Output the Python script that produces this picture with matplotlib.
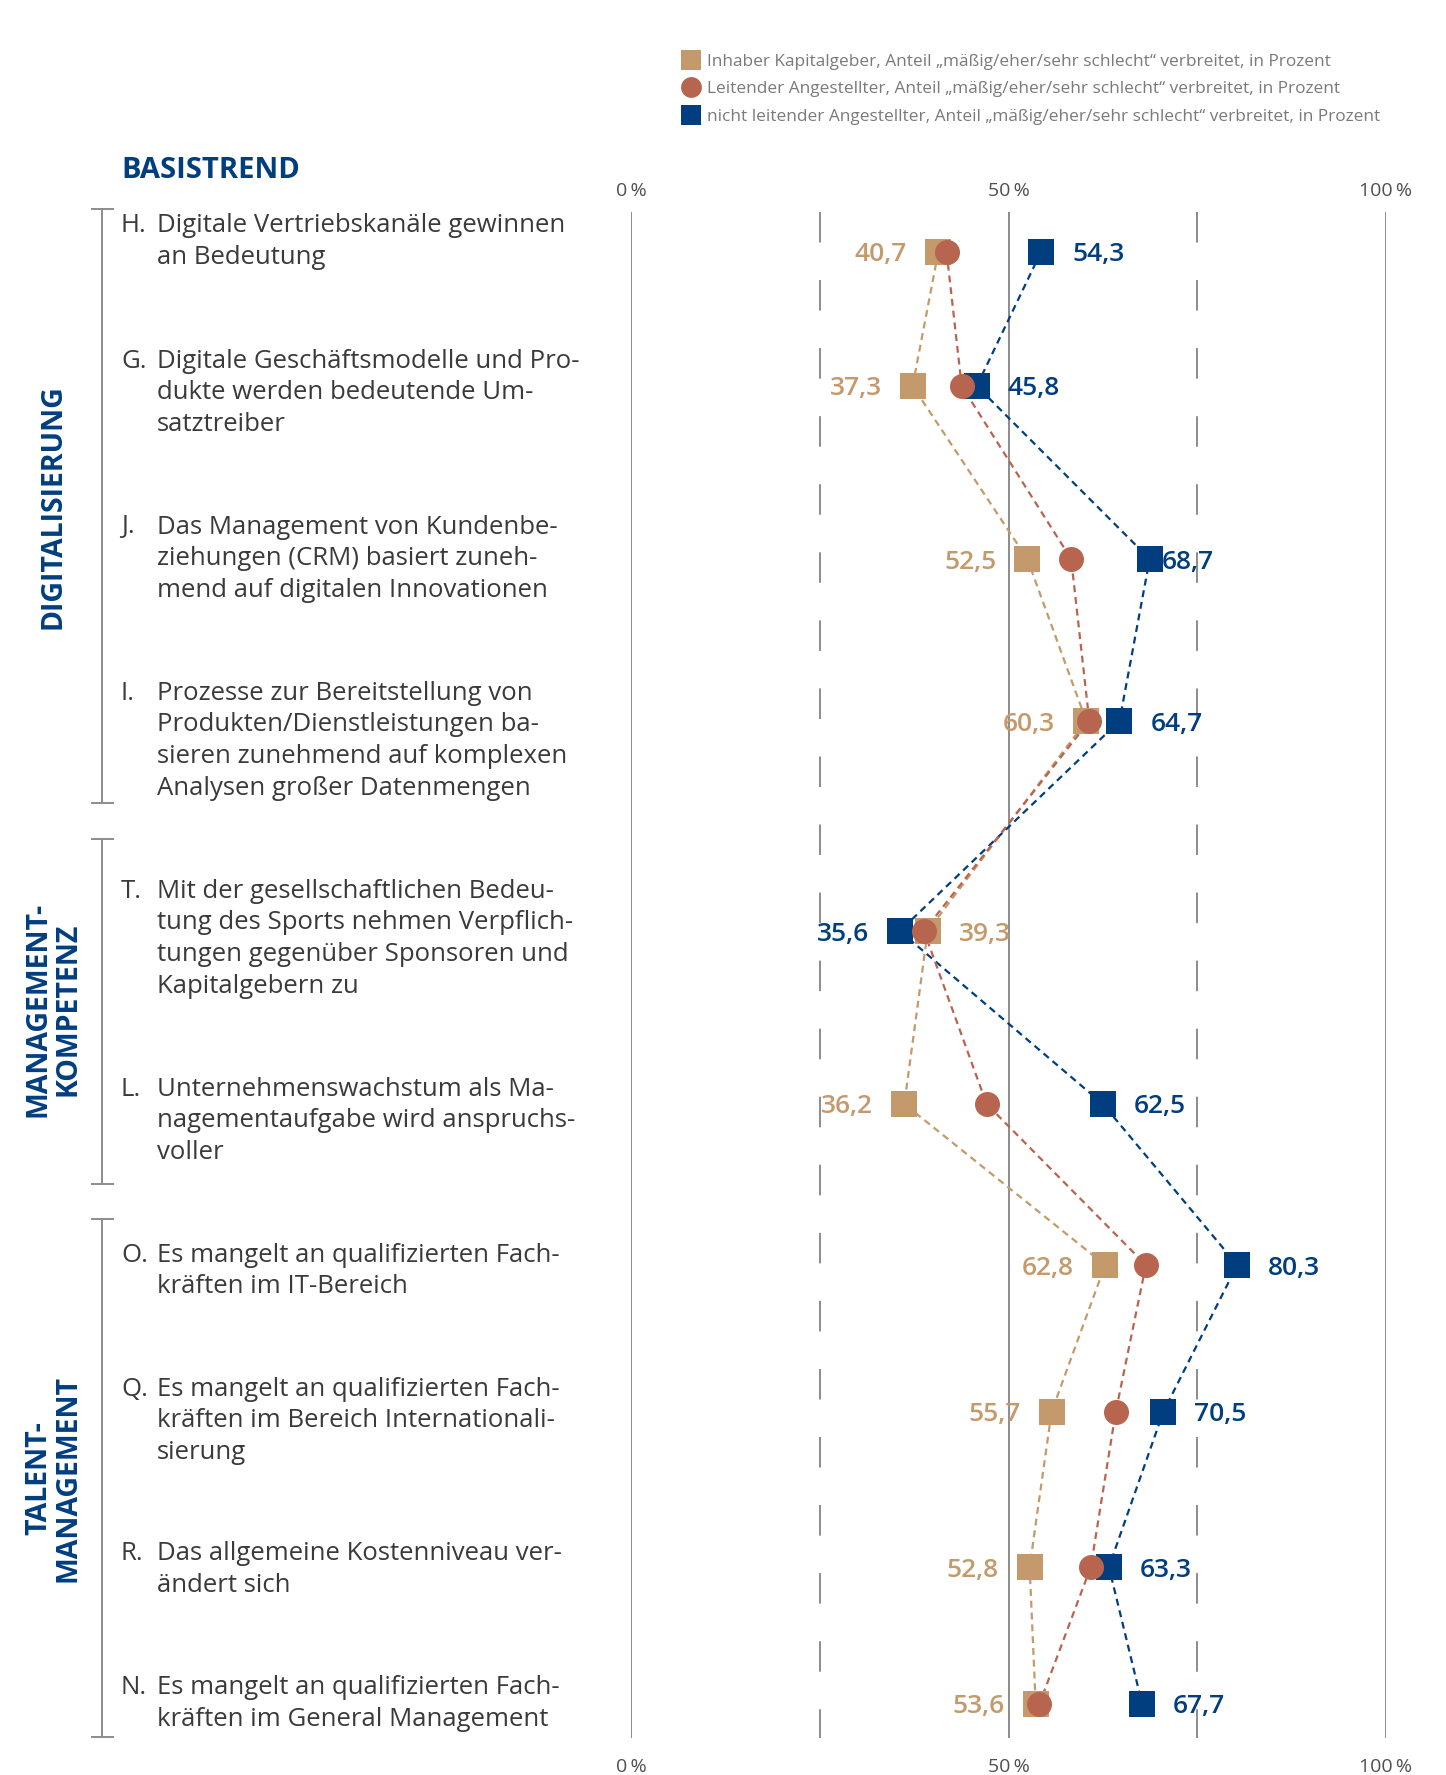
import matplotlib
matplotlib.use('Agg')
import matplotlib.pyplot as plt
from matplotlib.lines import Line2D
from matplotlib.transforms import offset_copy

plt.rcParams['font.family'] = ['Open Sans', 'DejaVu Sans']
plt.rcParams['lines.scale_dashes'] = False

# ---------------- data ----------------
item_letters = ['H.', 'G.', 'J.', 'I.', 'T.', 'L.', 'O.', 'Q.', 'R.', 'N.']
item_texts = [
    "Digitale Vertriebskanäle gewinnen\nan Bedeutung",
    "Digitale Geschäftsmodelle und Pro-\ndukte werden bedeutende Um-\nsatztreiber",
    "Das Management von Kundenbe-\nziehungen (CRM) basiert zuneh-\nmend auf digitalen Innovationen",
    "Prozesse zur Bereitstellung von\nProdukten/Dienstleistungen ba-\nsieren zunehmend auf komplexen\nAnalysen großer Datenmengen",
    "Mit der gesellschaftlichen Bedeu-\ntung des Sports nehmen Verpflich-\ntungen gegenüber Sponsoren und\nKapitalgebern zu",
    "Unternehmenswachstum als Ma-\nnagementaufgabe wird anspruchs-\nvoller",
    "Es mangelt an qualifizierten Fach-\nkräften im IT-Bereich",
    "Es mangelt an qualifizierten Fach-\nkräften im Bereich Internationali-\nsierung",
    "Das allgemeine Kostenniveau ver-\nändert sich",
    "Es mangelt an qualifizierten Fach-\nkräften im General Management",
]
inhaber = [40.7, 37.3, 52.5, 60.3, 39.3, 36.2, 62.8, 55.7, 52.8, 53.6]
leitend = [41.8, 43.8, 58.3, 60.7, 38.8, 47.1, 68.2, 64.2, 60.9, 54.1]
nicht_leitend = [54.3, 45.8, 68.7, 64.7, 35.6, 62.5, 80.3, 70.5, 63.3, 67.7]
series_labels = [
    "Inhaber Kapitalgeber, Anteil \u201emäßig/eher/sehr schlecht\u201c verbreitet, in Prozent",
    "Leitender Angestellter, Anteil \u201emäßig/eher/sehr schlecht\u201c verbreitet, in Prozent",
    "nicht leitender Angestellter, Anteil \u201emäßig/eher/sehr schlecht\u201c verbreitet, in Prozent",
]
group_labels = ['DIGITALISIERUNG', 'MANAGEMENT-\nKOMPETENZ', 'TALENT-\nMANAGEMENT']
x_ticks = [0, 50, 100]
x_tick_labels = ['0\u2009%', '50\u2009%', '100\u2009%']
header = 'BASISTREND'

# ---------------- layout (pixels) ----------------
W, H = 1446, 1775
row_y = [252, 386, 559, 721, 931, 1104, 1265, 1412, 1567, 1704]
text_top_y = [226, 361, 527, 693, 891, 1089, 1255, 1389, 1554, 1688]
line_h = 31.7
group_spans = [(209, 803), (839, 1184), (1219, 1737)]
group_label_y = [507, 1009, 1478]
tan_side = ['L', 'L', 'L', 'L', 'R', 'L', 'L', 'L', 'L', 'L']
blue_side = ['R', 'R', 'R', 'R', 'L', 'R', 'R', 'R', 'R', 'R']
blue_off = [31, 31, 12, 31, 31, 31, 31, 31, 31, 31]

TAN = '#C49A6C'
RED = '#B86550'
BLUE = '#003E80'
GRID = '#8c8c8c'
TXT = '#3a3a3a'

fig = plt.figure(figsize=(W / 100, H / 100), dpi=100)
x0, x1 = 631, 1386
ax = fig.add_axes([x0 / W, 0, (x1 - x0) / W, 1])
ax.set_xlim(0, 100)
ax.set_ylim(H, 0)
ax.axis('off')

def fx(px):
    return px / W

def fy(py):
    return 1 - py / H

# grid lines
grid_top, grid_bot = 212, 1738
ax.vlines(x_ticks, grid_top, grid_bot, colors=GRID, linewidth=1.4, zorder=1)
ax.vlines([25, 75], grid_top, grid_bot, colors=GRID, linewidth=1.4,
          linestyles=(0, (22, 27)), zorder=1)
for xt, lab in zip(x_ticks, x_tick_labels):
    ax.text(xt, 191, lab, ha='center', va='center', fontsize=14, color='#505050')
    ax.text(xt, 1767, lab, ha='center', va='center', fontsize=14, color='#505050')

# series lines + markers
series = [
    (inhaber, TAN, 's', 18.5, 2),
    (nicht_leitend, BLUE, 's', 18.5, 3),
    (leitend, RED, 'o', 18, 4),
]
for vals, col, mk, ms, z in series:
    ax.plot(vals, row_y, color=col, linewidth=1.6, linestyle=(0, (5, 3.5)), zorder=1.5)
for vals, col, mk, ms, z in series:
    ax.plot(vals, row_y, linestyle='none', marker=mk, markersize=ms,
            color=col, markeredgewidth=0, zorder=z)

# value labels
VAL_FS = 19
VAL_DY = -3  # dots (downward)
for i, y in enumerate(row_y):
    if tan_side[i] == 'L':
        tr = offset_copy(ax.transData, fig, x=-31, y=VAL_DY, units='dots')
        ha = 'right'
    else:
        tr = offset_copy(ax.transData, fig, x=31, y=VAL_DY, units='dots')
        ha = 'left'
    ax.text(inhaber[i], y, f"{inhaber[i]:.1f}".replace('.', ','), transform=tr,
            ha=ha, va='center', fontsize=VAL_FS, fontweight='semibold', color=TAN, zorder=5)
    if blue_side[i] == 'R':
        tr = offset_copy(ax.transData, fig, x=blue_off[i], y=VAL_DY, units='dots')
        ha = 'left'
    else:
        tr = offset_copy(ax.transData, fig, x=-blue_off[i], y=VAL_DY, units='dots')
        ha = 'right'
    ax.text(nicht_leitend[i], y, f"{nicht_leitend[i]:.1f}".replace('.', ','), transform=tr,
            ha=ha, va='center', fontsize=VAL_FS, fontweight='semibold', color=BLUE, zorder=5)

# left item labels
ITEM_FS = 18.5
for i, (letter, txt) in enumerate(zip(item_letters, item_texts)):
    y0 = text_top_y[i]
    fig.text(fx(121), fy(y0), letter, ha='left', va='center', fontsize=ITEM_FS, color=TXT)
    for k, line in enumerate(txt.split('\n')):
        fig.text(fx(157), fy(y0 + k * line_h), line, ha='left', va='center',
                 fontsize=ITEM_FS, color=TXT)

# header
fig.text(fx(121), fy(171), header, ha='left', va='center', fontsize=21,
         fontweight='bold', color=BLUE)

# group brackets and labels
for (ya, yb), lab, yc in zip(group_spans, group_labels, group_label_y):
    fig.add_artist(Line2D([fx(102), fx(102)], [fy(ya), fy(yb)], color=GRID, linewidth=1.4))
    for yy in (ya, yb):
        fig.add_artist(Line2D([fx(92), fx(113)], [fy(yy), fy(yy)], color=GRID, linewidth=1.4))
    fig.text(fx(53), fy(yc), lab, rotation=90, ha='center', va='center',
             multialignment='center', fontsize=20.5, fontweight='bold', color=BLUE,
             linespacing=1.0)

# legend
handles = [
    Line2D([], [], linestyle='none', marker='s', markersize=15, color=TAN, markeredgewidth=0),
    Line2D([], [], linestyle='none', marker='o', markersize=15, color=RED, markeredgewidth=0),
    Line2D([], [], linestyle='none', marker='s', markersize=15, color=BLUE, markeredgewidth=0),
]
fig.legend(handles, series_labels, loc='upper left', bbox_to_anchor=(fx(682), fy(54)),
           frameon=False, fontsize=12.4, labelcolor='#7a7a7a', handlelength=1.0,
           handletextpad=0.45, labelspacing=0.65, borderpad=0, borderaxespad=0)

fig.savefig('out.png', dpi=100)
